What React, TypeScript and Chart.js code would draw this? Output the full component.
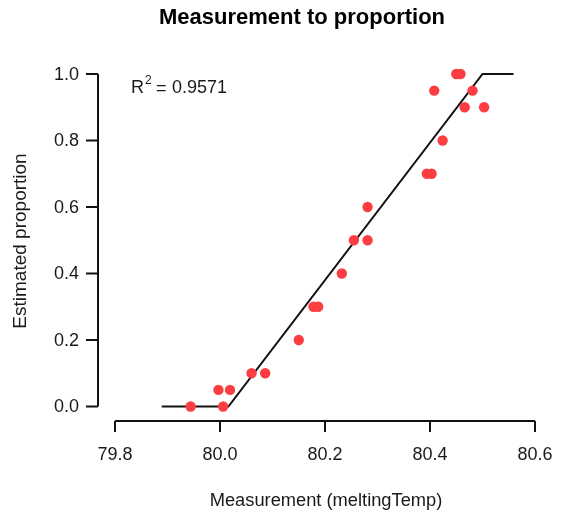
import React, { useEffect, useRef } from "react";
import { Chart, registerables } from "chart.js";

Chart.register(...registerables);

// Observed points
const measX = [79.944, 80.006, 79.997, 80.019, 80.060, 80.086, 80.150, 80.178, 80.187, 80.232, 80.255, 80.281, 80.281, 80.394, 80.403, 80.424, 80.466, 80.503, 80.408, 80.481, 80.450, 80.458];
const propY = [0, 0, 0.05, 0.05, 0.1, 0.1, 0.2, 0.3, 0.3, 0.4, 0.5, 0.5, 0.6, 0.7, 0.7, 0.8, 0.9, 0.9, 0.95, 0.95, 1.0, 1.0];

// Fitted piecewise-linear line
const fitX = [79.889, 80.016, 80.5, 80.559];
const fitY = [0, 0, 1, 1];

// Ticks
const xTicks = [79.8, 80.0, 80.2, 80.4, 80.6];
const yTicks = [0, 0.2, 0.4, 0.6, 0.8, 1.0];

const titleText = "Measurement to proportion";
const xTitle = "Measurement (meltingTemp)";
const yTitle = "Estimated proportion";
const r2Value = "0.9571";

const FONT = "'Liberation Sans', Arial, sans-serif";

const rAxesPlugin = {
  id: "rAxes",
  afterDraw(chart: any) {
    const ctx = chart.ctx;
    const xs = chart.scales.x;
    const ys = chart.scales.y;
    const area = chart.chartArea;
    ctx.save();
    ctx.strokeStyle = "#111";
    ctx.fillStyle = "#1a1a1a";
    ctx.lineWidth = 2;
    ctx.lineCap = "butt";

    // y axis
    const yx = area.left;
    ctx.beginPath();
    ctx.moveTo(yx, ys.getPixelForValue(yTicks[0]));
    ctx.lineTo(yx, ys.getPixelForValue(yTicks[yTicks.length - 1]));
    ctx.stroke();
    ctx.font = `18px ${FONT}`;
    ctx.textAlign = "right";
    ctx.textBaseline = "middle";
    yTicks.forEach((v) => {
      const py = ys.getPixelForValue(v);
      ctx.beginPath();
      ctx.moveTo(yx - 12, py);
      ctx.lineTo(yx, py);
      ctx.stroke();
      ctx.fillText(v.toFixed(1), yx - 19, py + 1);
    });

    // x axis
    const xy = area.bottom;
    ctx.beginPath();
    ctx.moveTo(xs.getPixelForValue(xTicks[0]), xy);
    ctx.lineTo(xs.getPixelForValue(xTicks[xTicks.length - 1]), xy);
    ctx.stroke();
    ctx.textAlign = "center";
    ctx.textBaseline = "middle";
    xTicks.forEach((v) => {
      const px = xs.getPixelForValue(v);
      ctx.beginPath();
      ctx.moveTo(px, xy);
      ctx.lineTo(px, xy + 11);
      ctx.stroke();
      ctx.fillText(v.toFixed(1), px, 455);
    });

    // axis titles
    ctx.font = `18.3px ${FONT}`;
    ctx.fillText(xTitle, 326, 501);
    ctx.save();
    ctx.translate(21, 241);
    ctx.rotate(-Math.PI / 2);
    ctx.font = `19px ${FONT}`;
    ctx.fillText(yTitle, 0, 0);
    ctx.restore();

    // main title
    ctx.font = `bold 22px ${FONT}`;
    ctx.fillStyle = "#000";
    ctx.fillText(titleText, 302, 18);

    // R^2 annotation
    ctx.fillStyle = "#1a1a1a";
    ctx.textAlign = "left";
    ctx.textBaseline = "alphabetic";
    ctx.font = `18px ${FONT}`;
    ctx.fillText("R", 131, 93);
    const rw = ctx.measureText("R").width;
    ctx.font = `12px ${FONT}`;
    ctx.fillText("2", 131 + rw + 1, 84);
    ctx.font = `18px ${FONT}`;
    ctx.fillText("=", 156, 94);
    ctx.fillText(r2Value, 172, 93);

    ctx.restore();
  },
};

export default function App() {
  const ref = useRef<HTMLCanvasElement | null>(null);
  useEffect(() => {
    if (!ref.current) return;
    const chart = new Chart(ref.current, {
      type: "scatter",
      data: {
        datasets: [
          {
            type: "line",
            data: fitX.map((x, i) => ({ x, y: fitY[i] })),
            borderColor: "#111",
            borderWidth: 2,
            pointRadius: 0,
            fill: false,
            tension: 0,
            order: 2,
          },
          {
            type: "scatter",
            data: measX.map((x, i) => ({ x, y: propY[i] })),
            backgroundColor: "rgb(252,62,66)",
            borderWidth: 0,
            pointRadius: 5.2,
            order: 1,
          },
        ],
      },
      options: {
        responsive: false,
        animation: false,
        devicePixelRatio: 1,
        layout: { padding: { left: 98, top: 59.5, right: 16, bottom: 94 } },
        plugins: { legend: { display: false }, tooltip: { enabled: false }, title: { display: false } },
        scales: {
          x: { type: "linear", display: false, min: 79.7676, max: 80.619 },
          y: { type: "linear", display: false, min: -0.0436, max: 1.0436 },
        },
      },
      plugins: [rAxesPlugin],
    });
    return () => chart.destroy();
  }, []);
  return (
    <div style={{ position: "fixed", left: 0, top: 0, width: 561, height: 515, background: "#fff" }}>
      <canvas ref={ref} width={561} height={515} style={{ display: "block" }} />
    </div>
  );
}
